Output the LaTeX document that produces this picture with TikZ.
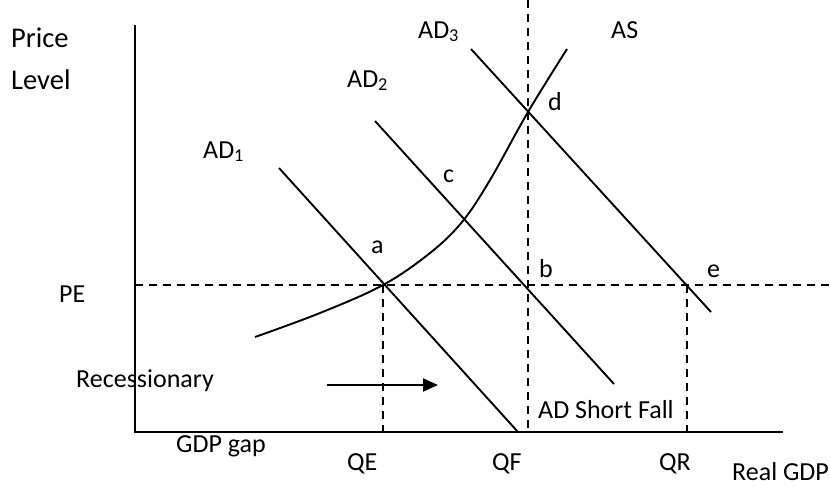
\documentclass[tikz,border=0pt]{standalone}
\usepackage{fontspec}
\setmainfont{Carlito}
\usetikzlibrary{arrows.meta}
\begin{document}
\begin{tikzpicture}[x=1pt,y=-1pt,
  lbl/.style={anchor=base west,inner sep=0pt,font=\fontsize{26}{31}\selectfont},
  biglbl/.style={lbl,font=\fontsize{28.5}{34}\selectfont},
  axisline/.style={line width=2.3pt},
  curve/.style={line width=1.9pt},
  guide/.style={line width=1.9pt,dash pattern=on 8pt off 6pt}]
\useasboundingbox (0,0) rectangle (830,488);
% coordinates
\coordinate (O) at (135,432);
\coordinate (Ytop) at (135,25);
\coordinate (Xend) at (783,432);
\coordinate (PEl) at (135,285);
\coordinate (PEr) at (830,285);
\coordinate (QFt) at (528,0);
\coordinate (QFb) at (528,432);
\coordinate (Ea) at (383,285);
\coordinate (QEb) at (383,432);
\coordinate (Ee) at (687,285);
\coordinate (QRb) at (687,432);
\coordinate (AD1s) at (279,168);
\coordinate (AD1e) at (518,432);
\coordinate (AD2s) at (375,121);
\coordinate (AD2e) at (614,384);
\coordinate (AD3s) at (471,49);
\coordinate (AD3e) at (711,312);
\coordinate (ArS) at (327,385);
\coordinate (ArE) at (438,385);
% guides
\draw[guide] (PEl) -- (PEr);
\draw[guide] (QFt) -- (QFb);
\draw[guide] (Ea) -- (QEb);
\draw[guide] (Ee) -- (QRb);
% axes
\draw[axisline] (Ytop) -- (O) -- (Xend);
% AD curves
\draw[curve] (AD1s) -- (AD1e);
\draw[curve] (AD2s) -- (AD2e);
\draw[curve] (AD3s) -- (AD3e);
% AS curve
\draw[curve] plot[smooth,tension=0.6] coordinates {(255,337) (320,313) (383,285) (430,253) (462,222) (490,180) (528,112) (567,49)};
% arrow
\draw[line width=2pt,-{Triangle[length=15pt,width=13pt]}] (ArS) -- (ArE);
% labels
\node[biglbl] (price) at (11,47) {Price};
\node[biglbl] (level) at (11,89) {Level};
\node[lbl] (pe) at (59,302) {PE};
\node[lbl] (ad1) at (203,158) {AD\textsubscript{1}};
\node[lbl] (ad2) at (347,87) {AD\textsubscript{2}};
\node[lbl] (ad3) at (418,38) {AD\textsubscript{3}};
\node[lbl] (as) at (611,38) {AS};
\node[lbl] (d) at (548,110) {d};
\node[lbl] (c) at (443,182) {c};
\node[lbl] (a) at (371,253) {a};
\node[lbl] (b) at (539,277) {b};
\node[lbl] (e) at (707,277) {e};
\node[lbl] (rec) at (76,387) {Recessionary};
\node[lbl] (gap) at (176,452) {GDP gap};
\node[lbl] (short) at (538,418) {AD Short Fall};
\node[lbl] (qe) at (347,470) {QE};
\node[lbl] (qf) at (492,470) {QF};
\node[lbl] (qr) at (659,470) {QR};
\node[lbl] (real) at (732,480) {Real GDP};
\end{tikzpicture}
\end{document}
